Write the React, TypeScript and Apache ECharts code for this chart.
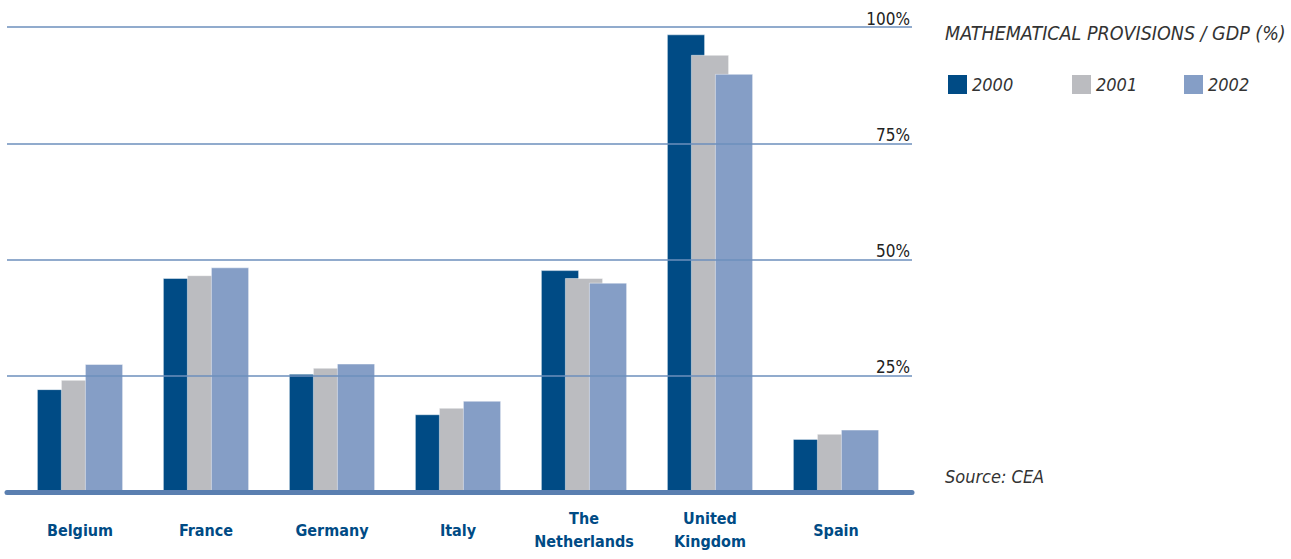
import React, { useEffect, useRef } from "react";
import * as echarts from "echarts";

const categories = ["Belgium", "France", "Germany", "Italy", "The\nNetherlands", "United\nKingdom", "Spain"];
const years = ["2000", "2001", "2002"];
const values2000 = [22.1, 46.0, 25.4, 16.7, 47.7, 98.4, 11.4];
const values2001 = [24.1, 46.6, 26.7, 18.1, 46.0, 94.0, 12.5];
const values2002 = [27.5, 48.3, 27.6, 19.6, 45.0, 89.9, 13.4];
const yTicks = [0, 25, 50, 75, 100];
const colors = ["#004b85", "#bbbcc0", "#859ec6"];
const titleText = "MATHEMATICAL PROVISIONS / GDP (%)";
const sourceText = "Source: CEA";

const FONT = "'DejaVu Sans Condensed', 'Roboto', sans-serif";

export default function App() {
  const ref = useRef<HTMLDivElement>(null);
  useEffect(() => {
    if (!ref.current) return;
    const chart = echarts.init(ref.current, undefined, { renderer: "svg" });
    const seriesData = [values2000, values2001, values2002];
    const legendLefts = [948, 1072, 1184];
    chart.setOption({
      animation: false,
      backgroundColor: "#ffffff",
      title: [
        {
          text: titleText,
          left: 945,
          top: 23,
          padding: 0,
          textStyle: { fontFamily: FONT, fontSize: 19.5, fontStyle: "italic", fontWeight: "normal", color: "#333333" },
        },
        {
          text: sourceText,
          left: 945,
          top: 467,
          padding: 0,
          textStyle: { fontFamily: FONT, fontSize: 18, fontStyle: "italic", fontWeight: "normal", color: "#333333" },
        },
      ],
      legend: years.map((y, i) => ({
        data: [y],
        left: legendLefts[i],
        top: 75,
        padding: 0,
        itemWidth: 19,
        itemHeight: 19,
        icon: "rect",
        itemStyle: { borderWidth: 0 },
        selectedMode: false,
        textStyle: { fontFamily: FONT, fontSize: 18, fontStyle: "italic", color: "#333333" },
      })),
      grid: [
        { left: 7, width: 905, top: 27, height: 465 },
        { left: 17, width: 882, top: 27, height: 465 },
      ],
      xAxis: [
        {
          gridIndex: 0,
          type: "value",
          min: 0,
          max: 1,
          axisLine: { show: true, onZero: false, lineStyle: { color: "#5a7fb0", width: 5 } },
          axisTick: { show: false },
          axisLabel: { show: false },
          splitLine: { show: false },
          z: 6,
        },
        {
          gridIndex: 1,
          type: "category",
          data: categories,
          axisLine: { show: false },
          axisTick: { show: false },
          axisLabel: {
            interval: 0,
            margin: 38,
            verticalAlign: "middle",
            fontFamily: FONT,
            fontSize: 16,
            fontWeight: "bold",
            color: "#004b85",
            lineHeight: 23,
          },
        },
      ],
      yAxis: [
        {
          gridIndex: 0,
          type: "value",
          position: "right",
          min: yTicks[0],
          max: yTicks[yTicks.length - 1],
          interval: 25,
          axisLine: { show: false },
          axisTick: { show: false },
          axisLabel: {
            inside: true,
            margin: 2,
            verticalAlign: "bottom",
            fontFamily: FONT,
            fontSize: 17,
            color: "#222222",
            formatter: (v: number) => (v === 0 ? "" : v + "%"),
          },
          splitLine: { show: true, lineStyle: { color: "#6d8fbc", width: 1.5 } },
          z: 5,
        },
        {
          gridIndex: 1,
          type: "value",
          min: 0,
          max: 100,
          show: false,
          splitLine: { show: false },
        },
      ],
      series: years.map((y, i) => ({
        name: y,
        type: "bar",
        xAxisIndex: 1,
        yAxisIndex: 1,
        data: seriesData[i],
        barWidth: 38,
        barGap: "-36.8%",
        itemStyle: { color: colors[i], borderColor: "rgba(255,255,255,0.55)", borderWidth: 0.8 },
        z: 2,
      })),
    });
    return () => chart.dispose();
  }, []);
  return (
    <div
      ref={ref}
      style={{ position: "fixed", left: 0, top: 0, width: 1291, height: 559 }}
    />
  );
}
